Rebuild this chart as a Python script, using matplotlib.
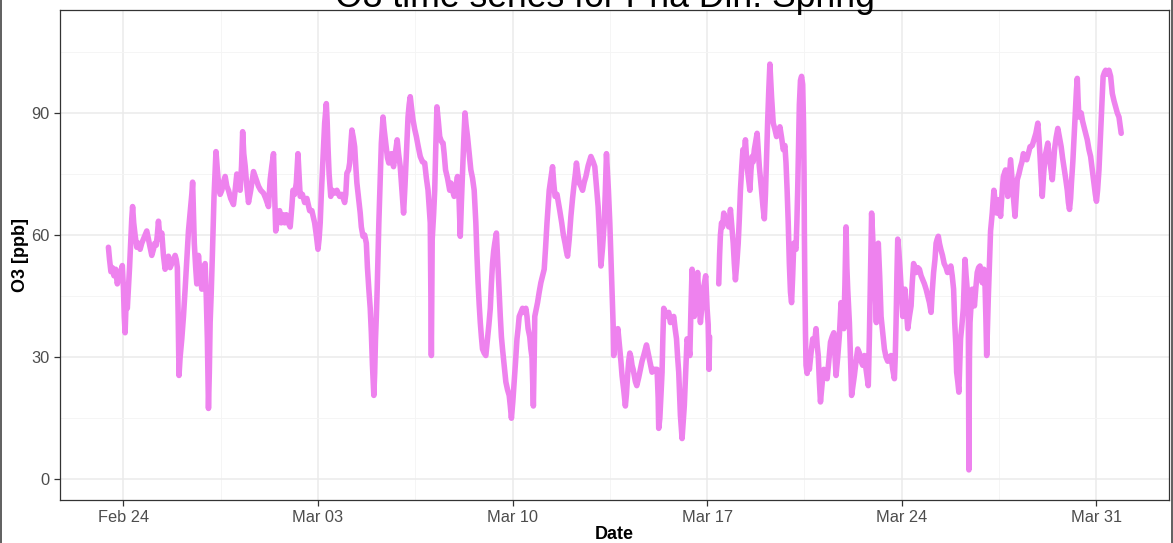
import numpy as np
import pandas as pd
import matplotlib
matplotlib.use("Agg")
import matplotlib.pyplot as plt
import matplotlib.dates as mdates
from matplotlib.lines import Line2D

plt.rcParams['font.family'] = ['Liberation Sans', 'DejaVu Sans']

# Measurement period start; offsets below are in days from this instant
start_date = "2015-02-24"

# Time offsets (days) and ozone mixing ratio (ppb); NaN marks a data gap
day_offset = [
    -0.54, -0.50, -0.45, -0.40, -0.34, -0.28, -0.22, -0.16, -0.10, -0.04, 0.00, 0.03, 0.06, 0.10, 0.14, 0.18, 0.22,
    0.26, 0.30, 0.33, 0.37, 0.42, 0.48, 0.54, 0.60, 0.66, 0.72, 0.78, 0.84, 0.90, 0.96, 1.02, 1.08, 1.13, 1.18,
    1.22, 1.26, 1.32, 1.38, 1.44, 1.50, 1.56, 1.62, 1.68, 1.74, 1.80, 1.86, 1.90, 1.94, 1.97, 2.00, 2.04, 2.10,
    2.16, 2.22, 2.28, 2.34, 2.38, 2.42, 2.46, 2.49, 2.52, 2.55, 2.60, 2.64, 2.70, 2.76, 2.82, 2.88, 2.94, 2.98,
    3.02, 3.06, 3.09, 3.12, 3.16, 3.20, 3.26, 3.30, 3.33, 3.38, 3.42, 3.48, 3.54, 3.60, 3.66, 3.72, 3.78, 3.86,
    3.96, 4.02, 4.08, 4.14, 4.20, 4.25, 4.29, 4.33, 4.38, 4.44, 4.50, 4.58, 4.68, 4.76, 4.86, 4.94, 5.04, 5.12,
    5.22, 5.28, 5.34, 5.40, 5.44, 5.48, 5.54, 5.62, 5.68, 5.74, 5.80, 5.86, 5.93, 6.00, 6.06, 6.10, 6.16, 6.22,
    6.28, 6.32, 6.36, 6.44, 6.52, 6.60, 6.70, 6.78, 6.88, 6.94, 7.00, 7.04, 7.08, 7.12, 7.16, 7.20, 7.24, 7.30,
    7.33, 7.36, 7.40, 7.46, 7.52, 7.60, 7.68, 7.78, 7.86, 7.96, 8.00, 8.04, 8.10, 8.14, 8.18, 8.22, 8.27, 8.32,
    8.36, 8.40, 8.46, 8.52, 8.56, 8.62, 8.68, 8.74, 8.78, 8.83, 8.88, 8.92, 8.96, 9.01, 9.04, 9.07, 9.10, 9.13,
    9.16, 9.19, 9.24, 9.28, 9.34, 9.38, 9.44, 9.50, 9.55, 9.60, 9.64, 9.68, 9.72, 9.78, 9.85, 9.90, 9.96, 10.02,
    10.08, 10.13, 10.18, 10.24, 10.28, 10.32, 10.37, 10.42, 10.48, 10.54, 10.60, 10.68, 10.76, 10.84, 10.90,
    10.96, 11.00, 11.04, 11.08, 11.11, 11.16, 11.20, 11.24, 11.28, 11.33, 11.38, 11.44, 11.50, 11.54, 11.59,
    11.66, 11.74, 11.78, 11.84, 11.90, 11.96, 12.02, 12.07, 12.12, 12.16, 12.20, 12.25, 12.29, 12.33, 12.38,
    12.44, 12.50, 12.56, 12.62, 12.68, 12.72, 12.76, 12.80, 12.84, 12.88, 12.92, 12.98, 13.04, 13.10, 13.15,
    13.20, 13.24, 13.28, 13.32, 13.36, 13.42, 13.45, 13.48, 13.52, 13.56, 13.60, 13.64, 13.70, 13.76, 13.82,
    13.88, 13.92, 13.96, 14.01, 14.06, 14.11, 14.16, 14.20, 14.24, 14.30, 14.36, 14.42, 14.48, 14.52, 14.56,
    14.62, 14.66, 14.70, 14.75, 14.78, 14.80, 14.86, 14.90, 14.96, 15.02, 15.08, 15.14, 15.19, 15.24, 15.28,
    15.32, 15.38, 15.44, 15.48, 15.53, 15.60, 15.65, 15.70, 15.77, 15.83, 15.89, 15.94, 15.98, 16.04, 16.10,
    16.16, 16.22, 16.26, 16.30, 16.35, 16.40, 16.46, 16.52, 16.58, 16.64, 16.72, 16.82, 16.90, 16.96, 17.02,
    17.08, 17.13, 17.18, 17.24, 17.30, 17.34, 17.38, 17.42, 17.45, 17.50, 17.54, 17.58, 17.62, 17.64, 17.70,
    17.74, 17.79, 17.86, 17.90, 17.94, 18.00, 18.06, 18.10, 18.14, 18.18, 18.22, 18.26, 18.30, 18.34, 18.38,
    18.42, 18.47, 18.54, 18.60, 18.66, 18.72, 18.78, 18.82, 18.88, 18.94, 19.02, 19.10, 19.20, 19.24, 19.26,
    19.30, 19.32, 19.35, 19.38, 19.41, 19.44, 19.50, 19.56, 19.62, 19.68, 19.74, 19.80, 19.85, 19.90, 19.94,
    19.98, 20.04, 20.10, 20.14, 20.18, 20.23, 20.28, 20.33, 20.38, 20.42, 20.46, 20.50, 20.54, 20.60, 20.66,
    20.71, 20.76, 20.82, 20.86, 20.90, 20.95, 21.00, 21.04, 21.07, 21.09, 21.25, 21.42, 21.45, 21.48, 21.52,
    21.56, 21.60, 21.66, 21.72, 21.78, 21.84, 21.89, 21.94, 21.98, 22.02, 22.07, 22.12, 22.16, 22.20, 22.25,
    22.29, 22.34, 22.38, 22.44, 22.49, 22.54, 22.58, 22.62, 22.66, 22.70, 22.75, 22.80, 22.84, 22.88, 22.92,
    22.96, 23.01, 23.06, 23.10, 23.14, 23.18, 23.22, 23.26, 23.29, 23.32, 23.38, 23.44, 23.50, 23.56, 23.62,
    23.68, 23.74, 23.80, 23.84, 23.88, 23.92, 23.96, 24.00, 24.04, 24.08, 24.12, 24.16, 24.20, 24.23, 24.26,
    24.29, 24.32, 24.36, 24.40, 24.44, 24.47, 24.49, 24.50, 24.52, 24.54, 24.56, 24.60, 24.64, 24.68, 24.74,
    24.80, 24.86, 24.92, 24.96, 25.00, 25.04, 25.08, 25.12, 25.16, 25.20, 25.26, 25.32, 25.38, 25.44, 25.50,
    25.56, 25.60, 25.64, 25.70, 25.76, 25.82, 25.87, 25.92, 25.96, 26.00, 26.03, 26.06, 26.12, 26.16, 26.20,
    26.25, 26.30, 26.36, 26.42, 26.48, 26.54, 26.60, 26.66, 26.72, 26.80, 26.84, 26.87, 26.92, 26.97, 27.02,
    27.06, 27.09, 27.12, 27.16, 27.21, 27.26, 27.32, 27.38, 27.44, 27.50, 27.56, 27.62, 27.68, 27.74, 27.77,
    27.80, 27.83, 27.86, 27.90, 27.95, 28.00, 28.04, 28.08, 28.12, 28.17, 28.22, 28.28, 28.34, 28.38, 28.43,
    28.48, 28.52, 28.58, 28.64, 28.70, 28.76, 28.82, 28.88, 28.94, 29.00, 29.06, 29.10, 29.15, 29.20, 29.24,
    29.28, 29.32, 29.36, 29.41, 29.47, 29.53, 29.60, 29.65, 29.71, 29.77, 29.82, 29.87, 29.91, 29.95, 29.98,
    30.02, 30.06, 30.09, 30.12, 30.17, 30.22, 30.28, 30.32, 30.36, 30.40, 30.42, 30.44, 30.46, 30.50, 30.54,
    30.58, 30.62, 30.67, 30.72, 30.77, 30.82, 30.86, 30.90, 30.96, 31.00, 31.03, 31.06, 31.09, 31.12, 31.16,
    31.20, 31.26, 31.32, 31.37, 31.42, 31.46, 31.50, 31.56, 31.61, 31.66, 31.74, 31.78, 31.82, 31.87, 31.92,
    31.97, 32.02, 32.08, 32.12, 32.16, 32.22, 32.28, 32.33, 32.38, 32.44, 32.50, 32.56, 32.62, 32.70, 32.76,
    32.83, 32.90, 32.94, 32.98, 33.02, 33.06, 33.11, 33.16, 33.21, 33.26, 33.31, 33.36, 33.42, 33.46, 33.50,
    33.56, 33.62, 33.68, 33.74, 33.79, 33.84, 33.90, 33.96, 34.00, 34.04, 34.08, 34.11, 34.16, 34.20, 34.25,
    34.29, 34.32, 34.35, 34.38, 34.42, 34.46, 34.51, 34.56, 34.62, 34.68, 34.74, 34.80, 34.86, 34.92, 34.97,
    35.01, 35.05, 35.10, 35.14, 35.18, 35.22, 35.25, 35.30, 35.34, 35.40, 35.46, 35.52, 35.58, 35.64, 35.70,
    35.76, 35.82, 35.86, 35.90,
]

o3_ppb = [
    57, 54, 51, 52, 50, 51.6, 48, 50, 51, 52.5, 47, 40, 36, 44, 42, 47, 52,
    58, 64, 67, 63, 60, 57, 58, 56.5, 58, 59, 60, 61, 59, 57, 55, 56.5, 58, 57.5,
    60, 63.4, 59, 60.5, 55, 51.6, 53, 54.8, 52, 53, 54, 55, 54, 52, 40, 25.5, 30, 34.5,
    40, 46.7, 54, 61, 64, 67, 70, 73, 65, 58, 52, 48, 55, 50, 46.7, 51, 53, 45,
    34.5, 17.4, 26, 38.5, 46, 55, 69.5, 76, 80.5, 76, 72.8, 70, 71, 73, 74.4, 72, 71, 69,
    67.5, 71, 75, 73, 71, 77, 85.4, 80, 77, 72, 68, 71, 75.6, 74, 72, 71, 70.3, 69,
    67, 73.6, 77, 80, 70, 61, 64, 66, 63, 65, 63, 65, 63, 62, 67, 71, 70, 72.8,
    80, 75, 69.5, 70, 68, 69, 66, 66, 63, 60, 56.5, 59, 63, 70, 76, 82, 87.5, 92.3,
    88, 81.7, 75, 69.5, 71, 70.3, 71, 69.5, 70, 68, 70, 75.2, 76, 77.7, 82, 85.8, 84, 81.7,
    77, 72.8, 69, 65.4, 62, 59.7, 60, 58, 52, 46.7, 42, 36, 28, 20.6, 26, 34.5, 40, 46.7,
    55, 63, 74, 82.6, 89, 86, 82.6, 79, 77.7, 79, 80, 78, 76.8, 80, 83.4, 80, 76.8, 71,
    65.4, 72, 80, 89, 92, 94, 91, 88.3, 86, 84.2, 82, 79.3, 78, 77.7, 74,
    71, 67, 63, 30.4, 59, 65, 71, 82, 91.5, 88, 84.2, 83, 82.6, 80, 76,
    74, 71, 72.8, 71, 69.5, 72, 74.4, 70, 59.7, 68, 75.2, 84, 90, 87, 84.2,
    80, 76, 74, 71, 63, 55, 48.3, 43, 38.5, 35, 32, 31, 30.4, 34.5, 38,
    42, 48, 53, 56, 58, 60.5, 56, 51.6, 46, 40, 35, 32, 28, 23.9, 22,
    20.6, 18, 15, 19, 23.9, 29, 34.5, 37, 40, 41, 42, 41, 42, 40, 37,
    35, 32, 30, 18, 30, 40, 42, 43.4, 46, 48.3, 50, 51.6, 57, 63, 67,
    71, 74, 76.8, 73, 69.5, 70, 68, 66, 63, 60, 58, 56, 54.8, 59, 64.6,
    69, 72.8, 75, 77.7, 75, 72.8, 72, 71, 73, 74.4, 77, 79.3, 78, 76.8, 72,
    67, 60, 52.4, 57, 63, 71, 80, 75, 71, 63, 54.8, 46, 38, 30.4, 36,
    33, 37, 32, 29, 25.5, 22, 18, 21, 25.5, 29, 31, 30, 28, 27, 25.5,
    24, 23, 25, 27, 29, 30.4, 32, 33, 31, 29, 26.3, 27, 27, 20, 12.5,
    15, 18, 22, 26.3, 35, 42, 41, 40, 41, 38.5, 39, 40, 37, 34.5, 30,
    26.3, 15.7, 10, 14, 18, 26, 34.5, 33, 30.4, 42, 51.6, 46, 40, 45, 50.8,
    44, 38.5, 43, 46.7, 48, 50, 42, 38, 27, 35, np.nan, 48, 55, 60, 63,
    62, 65.4, 64, 64, 62, 66.3, 62, 58, 53, 49, 53, 58, 64, 71, 77,
    81, 80, 83.4, 76.8, 74, 71, 76, 79.3, 78, 81, 83, 85, 81, 76.8, 74,
    71, 67, 64, 70, 79.3, 88, 95.6, 102, 98, 94, 87.5, 86, 84.2, 85, 86.6,
    84, 81, 82, 77.7, 71, 63, 53, 46, 43.4, 50, 58, 57, 56.5, 63, 71,
    82, 92, 98, 99, 97, 87.5, 75, 61, 46.7, 36, 28, 26, 30, 27, 31,
    34.5, 33, 37, 33, 30.4, 24, 19, 22, 25, 27, 26, 24.7, 29, 33.7, 35,
    36, 31, 25.5, 30, 35.3, 43.4, 40, 37, 48, 62, 52, 46.7, 38.5, 30, 20.6,
    23, 25.5, 29, 32, 31, 29, 28, 30.4, 27, 23, 35, 46.7, 65.4, 58, 53,
    45, 38.5, 48, 58, 50, 40, 36, 32, 30, 29, 30, 30.4, 27, 24.7, 30,
    38.5, 50, 59, 56, 50.8, 45, 40, 43, 46.7, 42, 37, 40, 42.6, 48, 53,
    52, 50.8, 52, 51.6, 50, 49, 48, 46.7, 45, 43.4, 41, 46, 50.8, 54, 58,
    59, 59.7, 58, 56.5, 55, 53, 52, 50.8, 51, 52.4, 50, 46.7, 38.5, 33, 26.3,
    24, 21.4, 28, 34.5, 38, 42, 54, 50, 46.7, 40, 2.3, 30, 38.5, 43, 46.7,
    44, 42.6, 47, 50.8, 52, 52.4, 50, 48.3, 51.6, 48, 40, 30.4, 38, 45, 53,
    61, 65.4, 71, 68, 65.4, 67, 68.7, 64.6, 70, 74.4, 76, 73, 69.5, 74, 78.5,
    74, 69.5, 64.6, 69, 73.6, 75, 76.8, 78, 80, 79, 78.5, 80, 81.7, 82, 83.4,
    85, 87.5, 84, 79.3, 74, 69.5, 75, 79.3, 81, 82.6, 79, 76.8, 73.6, 77, 81,
    84, 86.2, 84, 81.7, 79, 76.8, 74, 71, 68, 66.3, 69, 72.8, 78, 83.4, 90,
    95.6, 98.5, 93, 89, 90, 90, 88, 86.6, 85, 83.4, 81, 79.3, 76, 72.8, 70,
    68.3, 71, 76, 82, 87.5, 94, 99, 100, 100.5, 99.5, 100.5, 99, 94.8, 93, 91.5,
    90, 89, 87, 85,
]

y_ticks = [0, 30, 60, 90]
title_text = "O3 time series for Pha Din: Spring"

t0 = pd.Timestamp(start_date)
times = t0 + pd.to_timedelta(np.asarray(day_offset, dtype=float), unit="D")
values = np.asarray(o3_ppb, dtype=float)

W, H = 1173, 543
fig = plt.figure(figsize=(W / 100, H / 100), dpi=100)
ax = fig.add_axes([59.5 / W, 1 - 500 / H, (1169 - 59.5) / W, (500 - 10) / H])

ax.plot(times, values, color="violet", lw=4.0, solid_joinstyle="round",
        solid_capstyle="round", zorder=3)

# weekly major breaks, minor breaks half-way between
major = pd.date_range(t0, periods=6, freq="7D")
minor = pd.date_range(t0 - pd.Timedelta(days=3.5), periods=7, freq="7D")
ax.set_xticks(major)
ax.set_xticks(minor, minor=True)
ax.xaxis.set_major_formatter(mdates.DateFormatter("%b %d"))
ax.set_yticks(y_ticks)
ax.set_yticks([15, 45, 75, 105], minor=True)

# axis ranges (set after the ticks so they are not widened)
ax.set_xlim(t0 + pd.Timedelta(days=-2.30), t0 + pd.Timedelta(days=37.62))
ax.set_ylim(-5.1, 115.3)

ax.grid(True, which="major", color="#EBEBEB", lw=1.1, zorder=0)
ax.grid(True, which="minor", color="#F4F4F4", lw=0.6, zorder=0)
ax.set_axisbelow(True)

for s in ax.spines.values():
    s.set_color("#333333")
    s.set_linewidth(0.9)

ax.tick_params(axis="both", which="major", length=4, width=0.9, color="#333333",
               labelsize=11.8, labelcolor="#4D4D4D", pad=3)
ax.tick_params(axis="both", which="minor", length=0)

ax.set_xlabel("Date", fontsize=13, fontweight="bold", labelpad=1)
ax.set_ylabel("O3 [ppb]", fontsize=13, fontweight="bold", labelpad=1.5)

fig.text(605 / W, 1 - 7 / H, title_text, ha="center", va="baseline", fontsize=25.7)

# thin frame lines at the left and right edges of the image
fig.add_artist(Line2D([0.8 / W, 0.8 / W], [0, 1], color="#444444", lw=1.2,
                      transform=fig.transFigure))
fig.add_artist(Line2D([1 - 1.2 / W, 1 - 1.2 / W], [0, 1], color="#444444", lw=1.2,
                      transform=fig.transFigure))

fig.savefig("out.png", dpi=100)
